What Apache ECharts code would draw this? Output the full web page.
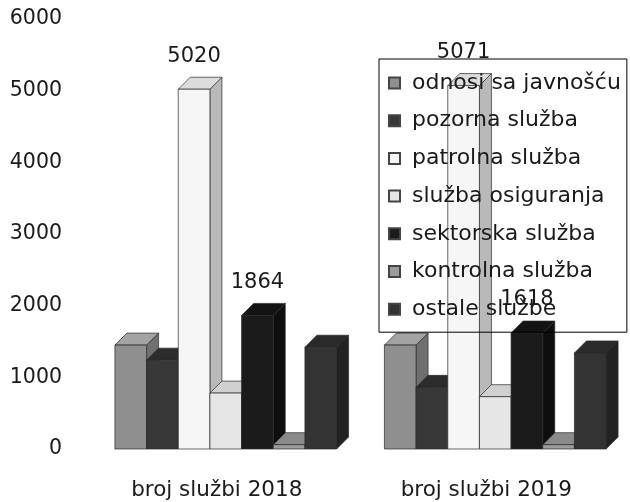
<!DOCTYPE html>
<html>
<head>
<meta charset="utf-8">
<script src="https://cdn.jsdelivr.net/npm/echarts@6/dist/echarts.min.js"></script>
<style>
  html, body { margin: 0; padding: 0; background: #fff; }
  #chart { width: 630px; height: 502px; }
</style>
</head>
<body>
<div id="chart"></div>
<script>
// podaci
var categories = ['broj službi 2018', 'broj službi 2019'];
var serviceNames = ['odnosi sa javnošću', 'pozorna služba', 'patrolna služba', 'služba osiguranja',
    'sektorska služba', 'kontrolna služba', 'ostale službe'];
var values2018 = [1450, 1240, 5020, 780, 1864, 60, 1420];
var values2019 = [1450, 860, 5071, 730, 1618, 60, 1340];
var labelled = ['patrolna služba', 'sektorska služba'];
var yTicks = [0, 1000, 2000, 3000, 4000, 5000, 6000];

// boje: prednja, gornja, bočna strana
var faceColors = [
    ['#8f8f8f', '#a3a3a3', '#707070'],
    ['#383838', '#2c2c2c', '#242424'],
    ['#f6f6f6', '#dcdcdc', '#b9b9b9'],
    ['#e6e6e6', '#d0d0d0', '#bdbdbd'],
    ['#1b1b1b', '#131313', '#0e0e0e'],
    ['#9c9c9c', '#8a8a8a', '#767676'],
    ['#333333', '#2a2a2a', '#222222']
];

var DX = 12, DY = 12;
var FONT = 'DejaVu Sans';

function renderBar(params, api) {
    var idx = params.seriesIndex;
    var cat = api.value(0), val = api.value(1);
    var base = api.coord([cat, 0]);
    var top = api.coord([cat, val]);
    var band = api.size([1, 0])[0];
    var w = band * 0.1175;
    var x0 = base[0] + (idx - 3.5) * w;
    var ty = top[1], by = base[1];
    var c = faceColors[idx];
    var stroke = { stroke: '#2a2a2a', lineWidth: 0.7 };
    var children = [
        { type: 'polygon', shape: { points: [[x0 + w, ty], [x0 + w + DX, ty - DY], [x0 + w + DX, by - DY], [x0 + w, by]] },
          style: Object.assign({ fill: c[2] }, stroke) },
        { type: 'polygon', shape: { points: [[x0, ty], [x0 + DX, ty - DY], [x0 + w + DX, ty - DY], [x0 + w, ty]] },
          style: Object.assign({ fill: c[1] }, stroke) },
        { type: 'rect', shape: { x: x0, y: ty, width: w, height: by - ty },
          style: Object.assign({ fill: c[0] }, stroke) }
    ];
    if (labelled.indexOf(serviceNames[idx]) >= 0) {
        children.push({
            type: 'text',
            style: { text: String(val), x: x0 + w / 2, y: ty - 33, align: 'center', verticalAlign: 'middle',
                     fontFamily: FONT, fontSize: 21, fill: '#1a1a1a' }
        });
    }
    return { type: 'group', children: children };
}

var series = [];
for (var i = 0; i < serviceNames.length; i++) {
    series.push({
        name: serviceNames[i],
        type: 'custom',
        renderItem: renderBar,
        itemStyle: { color: faceColors[i][0], borderColor: '#444', borderWidth: 0.6 },
        encode: { x: 0, y: 1 },
        data: [[0, values2018[i]], [1, values2019[i]]]
    });
}

var chart = echarts.init(document.getElementById('chart'));
chart.setOption({
    animation: false,
    backgroundColor: '#fff',
    grid: { left: 91, top: 19, width: 545, height: 430 },
    legend: {
        orient: 'vertical',
        left: 379,
        top: 59,
        data: serviceNames,
        icon: 'rect',
        itemWidth: 11,
        itemHeight: 11,
        itemGap: 15.7,
        padding: [13, 6, 12, 9],
        borderColor: '#000',
        borderWidth: 1,
        backgroundColor: 'transparent',
        textStyle: { fontFamily: FONT, fontSize: 22, color: '#1a1a1a', lineHeight: 22, padding: [0, 0, 0, 7] }
    },
    xAxis: {
        type: 'category',
        data: categories,
        axisLine: { show: false },
        axisTick: { show: false },
        axisLabel: { fontFamily: FONT, fontSize: 21.5, color: '#1a1a1a', margin: 30, padding: [0, 18, 0, 0] }
    },
    yAxis: {
        type: 'value',
        min: yTicks[0],
        max: yTicks[yTicks.length - 1],
        interval: 1000,
        splitLine: { show: false },
        axisLine: { show: false },
        axisTick: { show: false },
        axisLabel: {
            fontFamily: FONT, fontSize: 20.5, color: '#1a1a1a', margin: 29, padding: [12, 0, 0, 0],
            formatter: function (v) { return String(v); }
        }
    },
    series: series
});
</script>
</body>
</html>
